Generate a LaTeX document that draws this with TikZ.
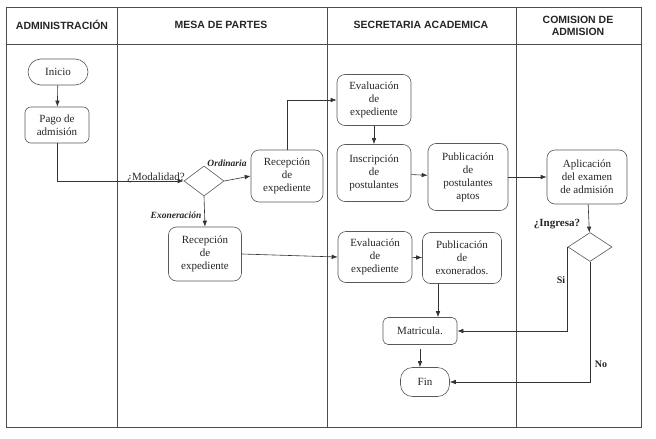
\documentclass[tikz,border=0pt]{standalone}
\usepackage{fontspec}
\setmainfont{Liberation Serif}
\newfontfamily\hdrfont{Liberation Sans}
\usetikzlibrary{arrows.meta,shapes.geometric}
\begin{document}
\begin{tikzpicture}[x=1pt,y=-1pt,
  lane/.style={draw=black!70,line width=0.7pt},
  hdr/.style={font=\hdrfont\bfseries\fontsize{10.5}{12.5}\selectfont,align=center,text=black!85},
  box/.style={draw=black!65,line width=0.6pt,rounded corners=8pt,align=center,inner sep=0pt,
              font=\fontsize{11}{13}\selectfont,text=black!85},
  pill/.style={box,rounded corners=13pt},
  decision/.style={diamond,draw=black!65,line width=0.6pt,inner sep=0pt},
  arr/.style={-{Latex[length=6pt,width=4.5pt]},line width=0.6pt,draw=black!80},
  conn/.style={line width=0.6pt,draw=black!80},
  lbl/.style={font=\bfseries\itshape\fontsize{9.5}{11}\selectfont,text=black!85},
  blbl/.style={font=\bfseries\fontsize{11}{13}\selectfont,text=black!85}
]
\useasboundingbox (0,0) rectangle (656,439);
\fill[white] (0,0) rectangle (656,439);
% lanes
\draw[lane] (6,7) rectangle (641,427);
\draw[lane] (6,44) -- (641,44);
\draw[lane] (117,7) -- (117,427);
\draw[lane] (327,7) -- (327,427);
\draw[lane] (516,7) -- (516,427);
\node[hdr] (h1) at (62,25) {ADMINISTRACIÓN};
\node[hdr] (h2) at (221,25) {MESA DE PARTES};
\node[hdr] (h3) at (421,25) {SECRETARIA ACADEMICA};
\node[hdr] (h4) at (578,26) {COMISION DE\\ADMISION};
% nodes
\node[pill,minimum width=60pt,minimum height=26pt] (inicio) at (58,72) {Inicio};
\node[box,rounded corners=6pt,minimum width=64pt,minimum height=36pt] (pago) at (57,125) {Pago de\\admisión};
\node[decision,minimum width=40pt,minimum height=30pt] (dia) at (204,181) {};
\node[box,minimum width=72pt,minimum height=52pt] (rec1) at (287,176) {Recepción\\de\\expediente};
\node[box,minimum width=74pt,minimum height=51pt] (eval1) at (374,100) {Evaluación\\de\\expediente};
\node[box,minimum width=74pt,minimum height=57pt] (insc) at (374,173) {Inscripción\\de\\postulantes};
\node[box,minimum width=80pt,minimum height=67pt] (pubA) at (468,177) {Publicación\\de\\postulantes\\aptos};
\node[box,minimum width=80pt,minimum height=54pt] (apl) at (587,177) {Aplicación\\del examen\\de admisión};
\node[decision,minimum width=44pt,minimum height=29pt] (dia2) at (590,247) {};
\node[box,minimum width=73pt,minimum height=54pt] (rec2) at (205,254) {Recepción\\de\\expediente};
\node[box,minimum width=74pt,minimum height=51pt] (eval2) at (375,257) {Evaluación\\de\\expediente};
\node[box,minimum width=79pt,minimum height=51pt] (pubE) at (462,258) {Publicación\\de\\exonerados.};
\node[box,rounded corners=5pt,minimum width=74pt,minimum height=27pt] (mat) at (420,331) {Matricula.};
\node[pill,rounded corners=12pt,minimum width=49pt,minimum height=29pt] (fin) at (425,382) {Fin};
% labels
\node[font=\fontsize{11}{13}\selectfont,text=black!85,anchor=base,inner sep=0pt] (lmod) at (156,180) {¿Modalidad?};
\node[lbl] (lord) at (227,163) {Ordinaria};
\node[lbl] (lexo) at (176,215) {Exoneración};
\node[blbl] (ling) at (557,224) {¿Ingresa?};
\node[blbl,font=\bfseries\fontsize{10}{12}\selectfont] (lsi) at (561,280) {Si};
\node[blbl,font=\bfseries\fontsize{10}{12}\selectfont] (lno) at (601,364) {No};
% connectors
\draw[arr] (inicio) -- (pago);
\draw[arr] (pago.south) |- (dia.west);
\draw[arr] (dia.east) -- (rec1.west);
\draw[arr] (rec1.north) |- (eval1.west);
\draw[arr] (eval1) -- (insc);
\draw[arr] (insc) -- (pubA);
\draw[arr] (pubA) -- (apl);
\draw[arr] (apl) -- (dia2);
\draw[arr] (dia2.west) |- (mat.east);
\draw[arr] (dia2.south) |- (fin.east);
\draw[arr] (dia.south) -- (rec2.north);
\draw[arr] (rec2.east) -- (eval2.west);
\draw[arr] (eval2) -- (pubE);
\draw[arr] ([xshift=-24pt]pubE.south) -- ([xshift=-24pt]pubE.south |- mat.north);
\draw[arr] ([yshift=-4pt]mat.south) -- (mat.south |- fin.north);
\end{tikzpicture}
\end{document}
